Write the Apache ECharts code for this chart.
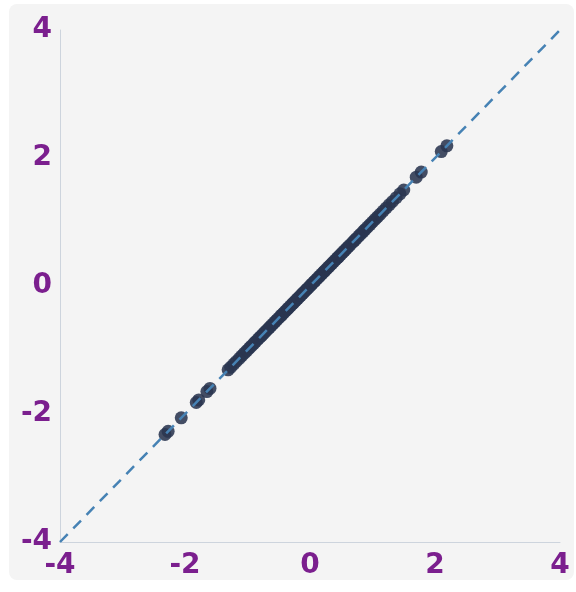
<html>
    <head>
        <meta charset="utf-8">
        <script src="https://cdn.jsdelivr.net/npm/echarts@6/dist/echarts.min.js"></script>
        <style>
            html, body { margin: 0; padding: 0; background: #fff; }
            #main { width: 576px; height: 592px; }
        </style>
    </head>
    <body>
        <div id="main"></div>
        <script>
            // theoretical quantiles (x) and sample quantiles (y)
            var theoretical = [
                -2.32, -2.27, -2.06, -1.82, -1.78, -1.65, -1.60,
                -1.31, -1.27, -1.22, -1.18, -1.13, -1.09, -1.05, -1.01, -0.97, -0.94,
                -0.90, -0.87, -0.83, -0.80, -0.77, -0.74, -0.71, -0.68, -0.65, -0.62,
                -0.59, -0.56, -0.53, -0.50, -0.47, -0.45, -0.42, -0.39, -0.36, -0.34,
                -0.31, -0.28, -0.26, -0.23, -0.20, -0.18, -0.15, -0.12, -0.10, -0.07,
                -0.05, -0.02, 0.01, 0.03, 0.06, 0.08, 0.11, 0.14, 0.16, 0.19,
                0.22, 0.24, 0.27, 0.30, 0.32, 0.35, 0.38, 0.41, 0.44, 0.46,
                0.49, 0.52, 0.55, 0.58, 0.61, 0.64, 0.68, 0.71, 0.74, 0.78,
                0.81, 0.85, 0.88, 0.92, 0.96, 1.00, 1.04, 1.08, 1.12, 1.17,
                1.22, 1.27, 1.32, 1.38, 1.44, 1.50,
                1.70, 1.78, 2.10, 2.19
            ];
            var sample = theoretical.slice();
            var refLine = [[-4, -4], [4, 4]];
            var ticks = [-4, -2, 0, 2, 4];

            var points = theoretical.map(function (t, i) {
                return [t, sample[i]];
            });

            var labelStyle = {
                color: '#7b1f8e',
                fontSize: 28,
                fontWeight: 'bold',
                fontFamily: 'DejaVu Sans',
                formatter: function (v) { return ticks.indexOf(v) >= 0 ? String(v) : ''; }
            };

            var chart = echarts.init(document.getElementById('main'));
            chart.setOption({
                animation: false,
                graphic: [{
                    type: 'rect',
                    shape: { x: 9, y: 4, width: 565, height: 576, r: 8 },
                    style: { fill: '#f4f4f4' },
                    z: -10
                }],
                grid: { left: 60, right: 16, top: 30, bottom: 50 },
                xAxis: {
                    type: 'value',
                    min: -4, max: 4, interval: 2,
                    axisLine: { show: true, onZero: false, lineStyle: { color: '#cdd4dd', width: 1 } },
                    axisTick: { show: false },
                    splitLine: { show: false },
                    axisLabel: Object.assign({ margin: 10 }, labelStyle)
                },
                yAxis: {
                    type: 'value',
                    min: -4, max: 4, interval: 2,
                    axisLine: { show: true, onZero: false, lineStyle: { color: '#cdd4dd', width: 1 } },
                    axisTick: { show: false },
                    splitLine: { show: false },
                    axisLabel: Object.assign({ margin: 8 }, labelStyle)
                },
                series: [{
                    type: 'scatter',
                    data: points,
                    symbolSize: 13,
                    itemStyle: { color: '#2a3550', opacity: 0.88 },
                    z: 2
                }, {
                    type: 'line',
                    data: refLine,
                    symbol: 'none',
                    lineStyle: { color: '#4682b4', width: 2.5, type: [11, 8] },
                    z: 3
                }]
            });

            window.onresize = chart.resize;
        </script>
    </body>
</html>
